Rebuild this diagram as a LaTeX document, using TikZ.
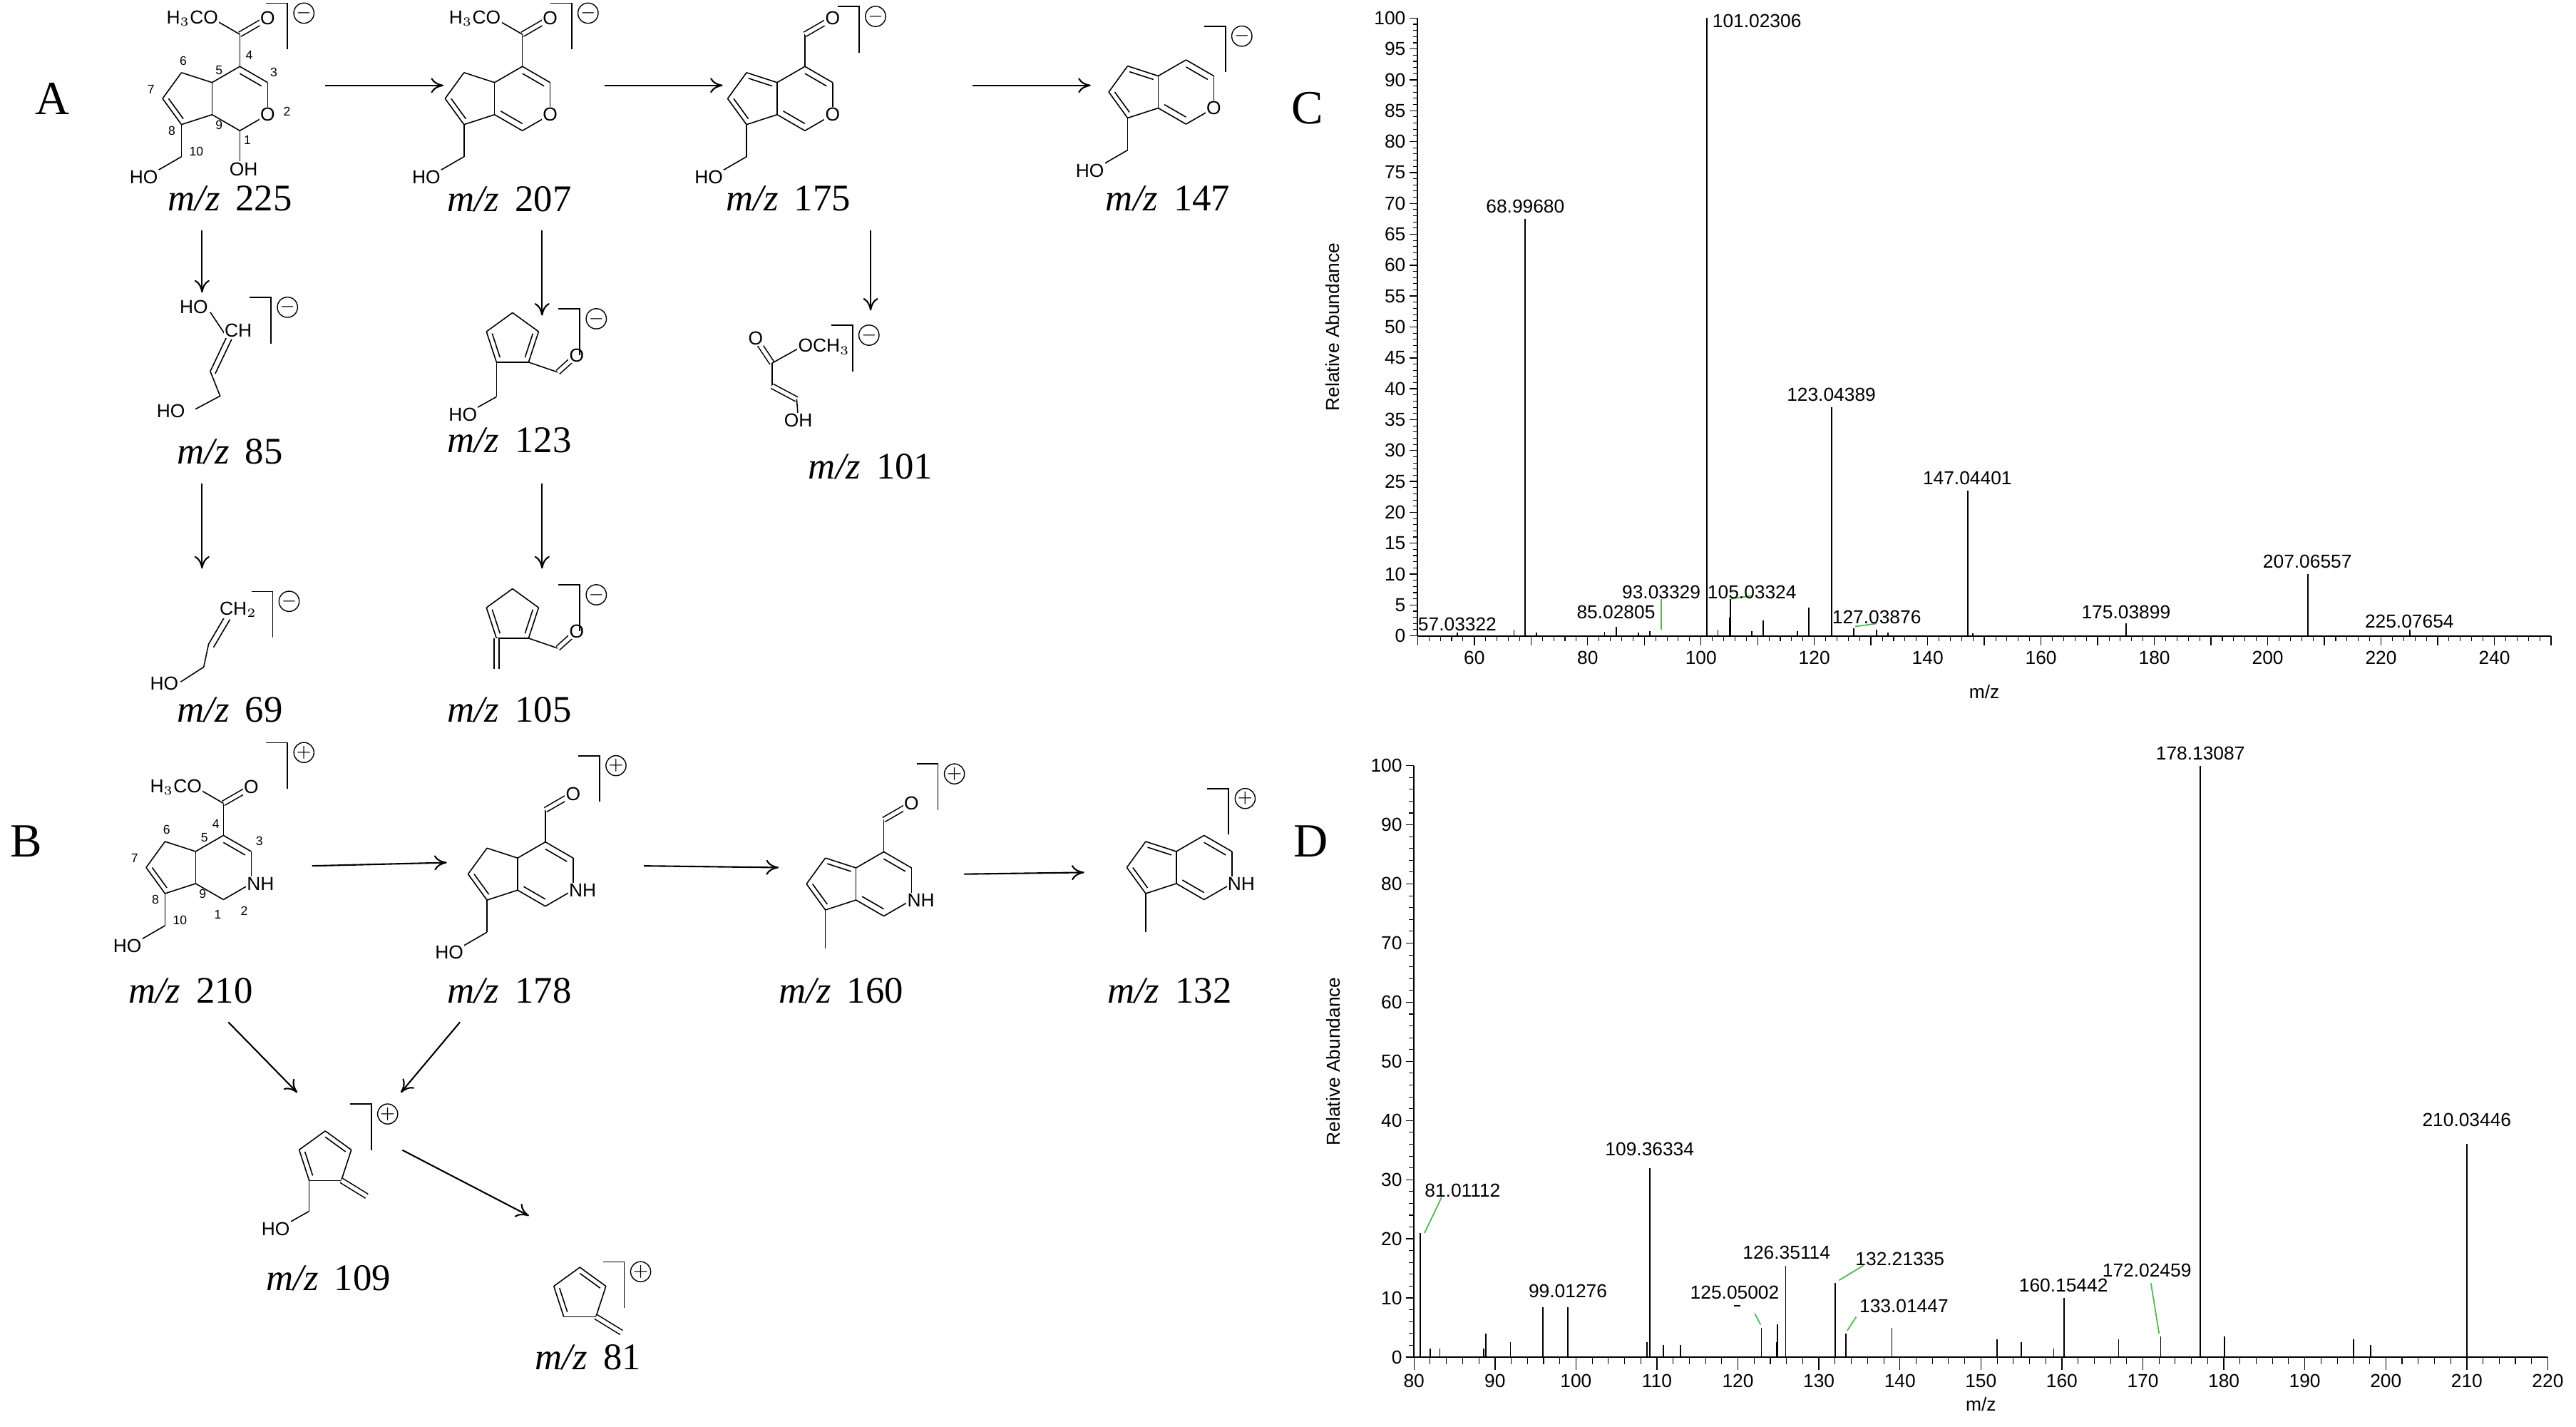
\documentclass[tikz,border=0pt]{standalone}
\usepackage{fontspec}
\setmainfont{Liberation Serif}
\setsansfont{Liberation Sans}
\usetikzlibrary{calc,arrows.meta}
\tikzset{x=0.02304cm,y=-0.02304cm,
  mol/.style={line width=0.45pt},
  atom/.style={fill=white,inner sep=0.4pt,font=\sffamily\fontsize{7.5}{8}\selectfont},
  num/.style={inner sep=0pt,font=\sffamily\fontsize{5}{5}\selectfont},
  mz/.style={font=\fontsize{15}{16}\selectfont},
  panel/.style={font=\fontsize{19}{20}\selectfont},
  rx/.style={-{To[length=5pt,width=6pt]},line width=0.6pt},
  spk/.style={line width=0.5pt},
  glead/.style={green!60!black!70!white,line width=0.5pt},
  slab/.style={font=\sffamily\fontsize{7.5}{8}\selectfont,inner sep=1pt},
  chgc/.style={circle,draw,line width=0.4pt,inner sep=0pt,minimum size=7pt,font=\fontsize{7}{7}\selectfont}}
\newcommand\ringpts{%
 \coordinate (c4) at (0,17); \coordinate (c3) at (14.7,8.5); \coordinate (c2) at (14.7,-8.5);
 \coordinate (c1) at (0,-17); \coordinate (c9) at (-14.7,-8.5); \coordinate (c5) at (-14.7,8.5);
 \coordinate (c6) at (-30.9,13.75); \coordinate (c7) at (-40.9,0); \coordinate (c8) at (-30.9,-13.75);
 \coordinate (hc) at (0,0); \coordinate (pc) at (-26.4,0);}
\newcommand\pentpts{%
 \coordinate (q1) at (0,14.5); \coordinate (q2) at (-13.8,4.5); \coordinate (q3) at (-8.5,-11.7);
 \coordinate (q4) at (8.5,-11.7); \coordinate (q5) at (13.8,4.5); \coordinate (qc) at (0,0);}
\newcommand\bd[2]{\draw[mol] (#1)--(#2);}
\newcommand\dbi[3]{\draw[mol] (#1)--(#2); \draw[mol] ($(#1)!0.22!(#3)$)--($(#2)!0.22!(#3)$);}
\newcommand\dbo[2]{\draw[mol,double,double distance=1.5pt] (#1)--(#2);}
\newcommand\chg[3]{\draw[line width=0.5pt] (#1,#2) -- ++(13,0) -- ++(0,28); \node[chgc] at ($(#1,#2)+(23,6)$) {$#3$};}
\begin{document}
\begin{tikzpicture}
\useasboundingbox (0,0) rectangle (1568.2,868.5);
\node[panel] (pA) at (32,60) {A};
\node[panel] (pB) at (16,512) {B};
\node[panel] (pC) at (796,66) {C};
\node[panel] (pD) at (798,512) {D};

% ================= A row 1 =================
% 225
\begin{scope}[shift={(146,60)},scale=1.15,yscale=-1]
 \ringpts
 \coordinate (e) at (0,34); \coordinate (eo) at (14.7,42.5); \coordinate (em) at (-14.7,42.5);
 \coordinate (k) at (-30.9,-30.75); \coordinate (ko) at (-45.6,-39.25); \coordinate (oh) at (0,-34);
 \dbi{c4}{c3}{hc}\bd{c3}{c2}\bd{c2}{c1}\bd{c1}{c9}\bd{c9}{c5}\bd{c5}{c4}
 \bd{c5}{c6}\bd{c6}{c7}\dbi{c7}{c8}{pc}\bd{c8}{c9}
 \bd{c4}{e}\dbo{e}{eo}\bd{e}{em}\bd{c8}{k}\bd{k}{ko}\bd{c1}{oh}
 \node[atom] at (c2) {O}; \node[atom] at (eo) {O}; \node[atom,anchor=east] at ($(em)+(4,0)$) {H$_3$CO};
 \node[atom,anchor=north east] at ($(ko)+(3,2)$) {HO}; \node[atom,anchor=north] at ($(oh)+(2,1)$) {OH};
 \node[num] at (5,23) {4}; \node[num] at (18,14) {3}; \node[num] at (25,-7) {2}; \node[num] at (4,-22) {1};
 \node[num] at (-11,-14) {9}; \node[num] at (-11,15) {5}; \node[num] at (-30,20) {6}; \node[num] at (-47,5) {7};
 \node[num] at (-36,-17) {8}; \node[num] at (-23,-28) {10};
\end{scope}
\chg{162}{2}{-}
\node[mz] (m225) at (140,121) {\textit{m/z}\, 225};
% 207
\begin{scope}[shift={(318,60)},scale=1.15,yscale=-1]
 \ringpts
 \coordinate (e) at (0,34); \coordinate (eo) at (14.7,42.5); \coordinate (em) at (-14.7,42.5);
 \coordinate (k) at (-30.9,-30.75); \coordinate (ko) at (-45.6,-39.25);
 \dbi{c4}{c3}{hc}\bd{c3}{c2}\bd{c2}{c1}\dbi{c1}{c9}{hc}\bd{c9}{c5}\bd{c5}{c4}
 \bd{c5}{c6}\bd{c6}{c7}\dbi{c7}{c8}{pc}\bd{c8}{c9}
 \bd{c4}{e}\dbo{e}{eo}\bd{e}{em}\bd{c8}{k}\bd{k}{ko}
 \node[atom] at (c2) {O}; \node[atom] at (eo) {O}; \node[atom,anchor=east] at ($(em)+(4,0)$) {H$_3$CO};
 \node[atom,anchor=north east] at ($(ko)+(3,2)$) {HO};
\end{scope}
\chg{335}{2}{-}
\node[mz] (m207) at (310,121) {\textit{m/z}\, 207};
% 175
\begin{scope}[shift={(490,60)},scale=1.15,yscale=-1]
 \ringpts
 \coordinate (e) at (0,34); \coordinate (eo) at (14.7,42.5);
 \coordinate (k) at (-30.9,-30.75); \coordinate (ko) at (-45.6,-39.25);
 \dbi{c4}{c3}{hc}\bd{c3}{c2}\bd{c2}{c1}\dbi{c1}{c9}{hc}\bd{c9}{c5}\bd{c5}{c4}
 \dbi{c5}{c6}{pc}\bd{c6}{c7}\dbi{c7}{c8}{pc}\bd{c8}{c9}
 \bd{c4}{e}\dbo{e}{eo}\bd{c8}{k}\bd{k}{ko}
 \node[atom] at (c2) {O}; \node[atom] at (eo) {O};
 \node[atom,anchor=north east] at ($(ko)+(3,2)$) {HO};
\end{scope}
\chg{510}{4}{-}
\node[mz] (m175) at (480,121) {\textit{m/z}\, 175};
% 147
\begin{scope}[shift={(722,56)},scale=1.15,yscale=-1]
 \ringpts
 \coordinate (k) at (-30.9,-30.75); \coordinate (ko) at (-45.6,-39.25);
 \dbi{c4}{c3}{hc}\bd{c3}{c2}\bd{c2}{c1}\dbi{c1}{c9}{hc}\bd{c9}{c5}\bd{c5}{c4}
 \dbi{c5}{c6}{pc}\bd{c6}{c7}\dbi{c7}{c8}{pc}\bd{c8}{c9}
 \bd{c8}{k}\bd{k}{ko}
 \node[atom] at (c2) {O};
 \node[atom,anchor=north east] at ($(ko)+(3,2)$) {HO};
\end{scope}
\chg{733}{16}{-}
\node[mz] (m147) at (711,121) {\textit{m/z}\, 147};

% ================= A row 2/3 =================
% 85
\coordinate (a0) at (128,190); \coordinate (a1) at (138,205); \coordinate (a2) at (128,226); \coordinate (a3) at (134,241); \coordinate (a4) at (119,249);
\draw[mol] (a1)--(a2); \draw[mol] ($(a1)+(3,1.5)$)--($(a2)+(3,1.5)$);
\draw[mol] (a2)--(a3)--(a4); \draw[mol] (a0)--(a1);
\node[atom] at (118,187) {HO}; \node[atom] at (145,201) {CH}; \node[atom] at (104,250) {HO};
\chg{152}{181}{-}
\node[mz] (m85) at (140,275) {\textit{m/z}\, 85};
% 69
\coordinate (b1) at (137,375); \coordinate (b2) at (127,392); \coordinate (b3) at (124,406); \coordinate (b4) at (110,415);
\draw[mol] (b1)--(b2); \draw[mol] ($(b1)+(3,2)$)--($(b2)+(3,2)$); \draw[mol] (b2)--(b3)--(b4);
\node[atom] at (145,371) {CH$_2$}; \node[atom] at (100,416) {HO};
\chg{153}{360}{-}
\node[mz] (m69) at (140,432) {\textit{m/z}\, 69};
% 123
\begin{scope}[shift={(312,207)},scale=1.15,yscale=-1]
 \pentpts
 \coordinate (f) at (24,-17); \coordinate (fo) at (34,-8); \coordinate (g) at (-8.5,-30); \coordinate (go) at (-21,-37);
 \bd{q1}{q2}\dbi{q2}{q3}{qc}\bd{q3}{q4}\dbi{q4}{q5}{qc}\bd{q5}{q1}
 \bd{q4}{f}\dbo{f}{fo}\bd{q3}{g}\bd{g}{go}
 \node[atom] at (fo) {O}; \node[atom,anchor=north east] at ($(go)+(3,2)$) {HO};
\end{scope}
\chg{340}{188}{-}
\node[mz] (m123) at (310,268) {\textit{m/z}\, 123};
% 105
\begin{scope}[shift={(312,375)},scale=1.15,yscale=-1]
 \pentpts
 \coordinate (f) at (24,-17); \coordinate (fo) at (34,-8); \coordinate (g) at (-8.5,-28);
 \bd{q1}{q2}\dbi{q2}{q3}{qc}\bd{q3}{q4}\dbi{q4}{q5}{qc}\bd{q5}{q1}
 \bd{q4}{f}\dbo{f}{fo}\dbo{q3}{g}
 \node[atom] at (fo) {O};
\end{scope}
\chg{340}{356}{-}
\node[mz] (m105) at (310,432) {\textit{m/z}\, 105};
% 101
\coordinate (d0) at (460,206); \coordinate (d1) at (470,221); \coordinate (d2) at (470,235); \coordinate (d3) at (485,243); \coordinate (d4) at (486,256); \coordinate (d5) at (488,211);
\draw[mol,double,double distance=1.5pt] (d0)--(d1); \draw[mol] (d1)--(d5);
\draw[mol] (d1)--(d2); \draw[mol,double,double distance=1.5pt] (d2)--(d3); \draw[mol] (d3)--(d4);
\node[atom] at (d0) {O}; \node[atom,anchor=west] at ($(d5)+(-3,0)$) {OCH$_3$}; \node[atom] at (d4) {OH};
\chg{506}{198}{-}
\node[mz] (m101) at (530,284) {\textit{m/z}\, 101};

% A arrows
\coordinate (ar1s) at (198,52); \coordinate (ar1e) at (270,52);
\coordinate (ar2s) at (368,52); \coordinate (ar2e) at (440,52);
\coordinate (ar3s) at (592,52); \coordinate (ar3e) at (664,52);
\draw[rx] (ar1s)--(ar1e); \draw[rx] (ar2s)--(ar2e); \draw[rx] (ar3s)--(ar3e);
\draw[rx] ($(m225.south)+(-17,6)$) -- ($(m225.south)+(-17,44)$);
\draw[rx] ($(m85.south)+(-17,6)$) -- ($(m85.south)+(-17,58)$);
\draw[rx] ($(m207.south)+(20,6)$) -- ($(m207.south)+(20,58)$);
\draw[rx] ($(m123.south)+(20,13)$) -- ($(m123.south)+(20,65)$);
\draw[rx] ($(m175.south)+(50,6)$) -- ($(m175.south)+(50,55)$);

% ================= B =================
% 210
\begin{scope}[shift={(136,528)},scale=1.15,yscale=-1]
 \ringpts
 \coordinate (e) at (0,34); \coordinate (eo) at (14.7,42.5); \coordinate (em) at (-14.7,42.5);
 \coordinate (k) at (-30.9,-30.75); \coordinate (ko) at (-45.6,-39.25);
 \dbi{c4}{c3}{hc}\bd{c3}{c2}\bd{c2}{c1}\bd{c1}{c9}\bd{c9}{c5}\bd{c5}{c4}
 \bd{c5}{c6}\bd{c6}{c7}\dbi{c7}{c8}{pc}\bd{c8}{c9}
 \bd{c4}{e}\dbo{e}{eo}\bd{e}{em}\bd{c8}{k}\bd{k}{ko}
 \node[atom,anchor=west] at ($(c2)+(-3,0)$) {NH}; \node[atom] at (eo) {O}; \node[atom,anchor=east] at ($(em)+(4,0)$) {H$_3$CO};
 \node[atom,anchor=north east] at ($(ko)+(3,2)$) {HO};
 \node[num] at (-4,23) {4}; \node[num] at (19,14) {3}; \node[num] at (11,-23) {2}; \node[num] at (-3,-25) {1};
 \node[num] at (-11,-14) {9}; \node[num] at (-10,16) {5}; \node[num] at (-30,20) {6}; \node[num] at (-47,5) {7};
 \node[num] at (-36,-17) {8}; \node[num] at (-23,-28) {10};
\end{scope}
\chg{162}{452}{+}
\node[mz] (m210) at (116,603) {\textit{m/z}\, 210};
% 178
\begin{scope}[shift={(332,532)},scale=1.15,yscale=-1]
 \ringpts
 \coordinate (e) at (0,34); \coordinate (eo) at (14.7,42.5);
 \coordinate (k) at (-30.9,-30.75); \coordinate (ko) at (-45.6,-39.25);
 \dbi{c4}{c3}{hc}\bd{c3}{c2}\bd{c2}{c1}\dbi{c1}{c9}{hc}\bd{c9}{c5}\bd{c5}{c4}
 \bd{c5}{c6}\bd{c6}{c7}\dbi{c7}{c8}{pc}\bd{c8}{c9}
 \bd{c4}{e}\dbo{e}{eo}\bd{c8}{k}\bd{k}{ko}
 \node[atom,anchor=west] at ($(c2)+(-3,0)$) {NH}; \node[atom] at (eo) {O};
 \node[atom,anchor=north east] at ($(ko)+(3,2)$) {HO};
\end{scope}
\chg{352}{460}{+}
\node[mz] (m178) at (310,603) {\textit{m/z}\, 178};
% 160
\begin{scope}[shift={(538,538)},scale=1.15,yscale=-1]
 \ringpts
 \coordinate (e) at (0,34); \coordinate (eo) at (14.7,42.5); \coordinate (k) at (-30.9,-34);
 \dbi{c4}{c3}{hc}\bd{c3}{c2}\bd{c2}{c1}\dbi{c1}{c9}{hc}\bd{c9}{c5}\bd{c5}{c4}
 \dbi{c5}{c6}{pc}\bd{c6}{c7}\dbi{c7}{c8}{pc}\bd{c8}{c9}
 \bd{c4}{e}\dbo{e}{eo}\bd{c8}{k}
 \node[atom,anchor=west] at ($(c2)+(-3,0)$) {NH}; \node[atom] at (eo) {O};
\end{scope}
\chg{558}{465}{+}
\node[mz] (m160) at (512,603) {\textit{m/z}\, 160};
% 132
\begin{scope}[shift={(733,528)},scale=1.15,yscale=-1]
 \ringpts
 \coordinate (k) at (-30.9,-34);
 \dbi{c4}{c3}{hc}\bd{c3}{c2}\bd{c2}{c1}\dbi{c1}{c9}{hc}\bd{c9}{c5}\bd{c5}{c4}
 \dbi{c5}{c6}{pc}\bd{c6}{c7}\dbi{c7}{c8}{pc}\bd{c8}{c9}
 \bd{c8}{k}
 \node[atom,anchor=west] at ($(c2)+(-3,0)$) {NH};
\end{scope}
\chg{735}{480}{+}
\node[mz] (m132) at (712,603) {\textit{m/z}\, 132};
% 109
\begin{scope}[shift={(198,705)},scale=1.15,yscale=-1]
 \pentpts
 \coordinate (g) at (-8.5,-28); \coordinate (go) at (-21,-35); \coordinate (h) at (22,-20);
 \bd{q1}{q2}\dbi{q2}{q3}{qc}\bd{q3}{q4}\bd{q5}{q1}\draw[mol] (q5)--(q4);
 \draw[mol] ($(q1)!0.22!(qc)$)--($(q5)!0.22!(qc)$);
 \dbo{q4}{h}\bd{q3}{g}\bd{g}{go}
 \node[atom,anchor=north east] at ($(go)+(3,2)$) {HO};
\end{scope}
\chg{213}{672}{+}
\node[mz] (m109) at (200,778) {\textit{m/z}\, 109};
% 81
\begin{scope}[shift={(353,788)},scale=1.15,yscale=-1]
 \pentpts
 \coordinate (h) at (22,-20);
 \bd{q1}{q2}\dbi{q2}{q3}{qc}\bd{q3}{q4}\bd{q5}{q1}\draw[mol] (q5)--(q4);
 \draw[mol] ($(q1)!0.22!(qc)$)--($(q5)!0.22!(qc)$);
 \dbo{q4}{h}
\end{scope}
\chg{367}{768}{+}
\node[mz] (m81) at (358,826) {\textit{m/z}\, 81};

% B arrows
\coordinate (br1s) at (190,527); \coordinate (br1e) at (272,525);
\coordinate (br2s) at (392,527); \coordinate (br2e) at (474,528);
\coordinate (br3s) at (587,532); \coordinate (br3e) at (660,531);
\draw[rx] (br1s)--(br1e); \draw[rx] (br2s)--(br2e); \draw[rx] (br3s)--(br3e);
\draw[rx] ($(m210.south)+(23,6)$) -- (181,665);
\draw[rx] ($(m178.south)+(-30,6)$) -- (244,665);
\draw[rx] (245,700) -- (322,740);

% ================= C spectrum =================
\begin{scope}[shift={(690.5,387)},xscale=3.45,yscale=-3.76]
 \draw[line width=0.6pt] (50,0)--(250,0); \draw[line width=0.6pt] (50,0)--(50,100);
 \foreach \v in {0,5,...,100} {\draw[line width=0.4pt] (50,\v)--(48.6,\v); \node[slab,anchor=east] at (48.4,\v) {\v};}
 \foreach \v in {1,...,99} {\draw[line width=0.3pt] (50,\v)--(49.2,\v);}
 \foreach \m in {50,52,...,250} {\draw[line width=0.3pt] (\m,0)--(\m,-0.8);}
 \foreach \m in {50,60,...,250} {\draw[line width=0.4pt] (\m,0)--(\m,-1.6);}
 \foreach \m in {60,80,...,240} {\node[slab,anchor=north] at (\m,-2) {\m};}
 \node[slab] (cmz) at (150,-9) {m/z};
 \node[slab,rotate=90] (cra) at (35,50) {Relative Abundance};
 \foreach \m/\p in {57.03/0.5,67/1,68.9968/67.5,71/0.5,85.028/1.5,83/0.6,89/0.5,91/0.8,101.023/100,103/1,105/3,105.2/6,109/0.8,111/2.5,117/0.8,119/4.6,123.044/37,127/1.2,131/1,133/0.5,147.044/23.5,148/0.4,175.039/2,207.066/10,225.077/1}
   \draw[spk] (\m,0)--(\m,\p);
 \draw[glead] (93,1)--(93,6);
 \draw[glead] (105.3,6)--(109,6.5);
 \draw[glead] (127.2,1.5)--(131,2);
 \node[slab,anchor=south] at (69,68) {68.99680};
 \node[slab,anchor=south west] at (101.5,98) {101.02306};
 \node[slab,anchor=south] at (123,37.5) {123.04389};
 \node[slab,anchor=south] at (147,24) {147.04401};
 \node[slab,anchor=south] at (207,10.5) {207.06557};
 \node[slab,anchor=south] at (225,0.8) {225.07654};
 \node[slab,anchor=south] at (175,2.3) {175.03899};
 \node[slab,anchor=south] at (131,1.5) {127.03876};
 \node[slab,anchor=south] at (109,5.5) {105.03324};
 \node[slab,anchor=south] at (93,5.5) {93.03329};
 \node[slab,anchor=south] at (85,2.3) {85.02805};
 \node[slab,anchor=south] at (57,0.3) {57.03322};
\end{scope}

% ================= D spectrum =================
\begin{scope}[shift={(466.4,826)},xscale=4.93,yscale=-3.6]
 \draw[line width=0.6pt] (80,0)--(220,0); \draw[line width=0.6pt] (80,0)--(80,100);
 \foreach \v in {0,10,...,100} {\draw[line width=0.4pt] (80,\v)--(79,\v); \node[slab,anchor=east] at (78.9,\v) {\v};}
 \foreach \v in {2,4,...,98} {\draw[line width=0.3pt] (80,\v)--(79.4,\v);}
 \foreach \m in {80,82,...,220} {\draw[line width=0.3pt] (\m,0)--(\m,-1.2);}
 \foreach \m in {80,90,...,220} {\draw[line width=0.4pt] (\m,0)--(\m,-2.2);\node[slab,anchor=north] at (\m,-2.4) {\m};}
 \node[slab] (dmz) at (150,-8) {m/z};
 \node[slab,rotate=90] (dra) at (70,50) {Relative Abundance};
 \foreach \m/\p in {80.8/21,82/1.5,83.2/1.5,88.6/1.5,88.9/4,91.9/2.5,95.9/8.5,99/8.5,108.8/2.5,109.1/32,110.8/2,112.9/2,122.9/5,124.8/2.5,124.9/5.5,125.9/15.5,132/12.5,133.3/4,139/5,152/3,155/2.5,159/1.5,160.3/10,167/3,172.2/3.5,177.1/100,180.1/3.5,196/3,198.1/2,210/36}
   \draw[spk] (\m,0)--(\m,\p);
 \draw[glead] (81.3,21)--(83.4,27);
 \draw[glead] (122.8,5.5)--(122.1,7.3);
 \draw[glead] (132.5,13)--(135.5,15.5);
 \draw[glead] (133.5,4.5)--(134.6,6.8);
 \draw[glead] (172,4)--(171,12.5);
 \draw[line width=0.4pt] (119.5,8.7)--(120.3,8.7);
 \node[slab,anchor=south] at (177.1,100.5) {178.13087};
 \node[slab,anchor=south] at (210,38.5) {210.03446};
 \node[slab,anchor=south] at (109.1,33.5) {109.36334};
 \node[slab,anchor=south] at (86,26.5) {81.01112};
 \node[slab,anchor=south] at (99,9.5) {99.01276};
 \node[slab,anchor=south] at (126,16) {126.35114};
 \node[slab,anchor=south] at (119.6,9.3) {125.05002};
 \node[slab,anchor=south] at (140,15) {132.21335};
 \node[slab,anchor=south] at (140.5,7) {133.01447};
 \node[slab,anchor=south] at (160.2,10.5) {160.15442};
 \node[slab,anchor=south] at (170.5,13) {172.02459};
\end{scope}
\end{tikzpicture}
\end{document}
